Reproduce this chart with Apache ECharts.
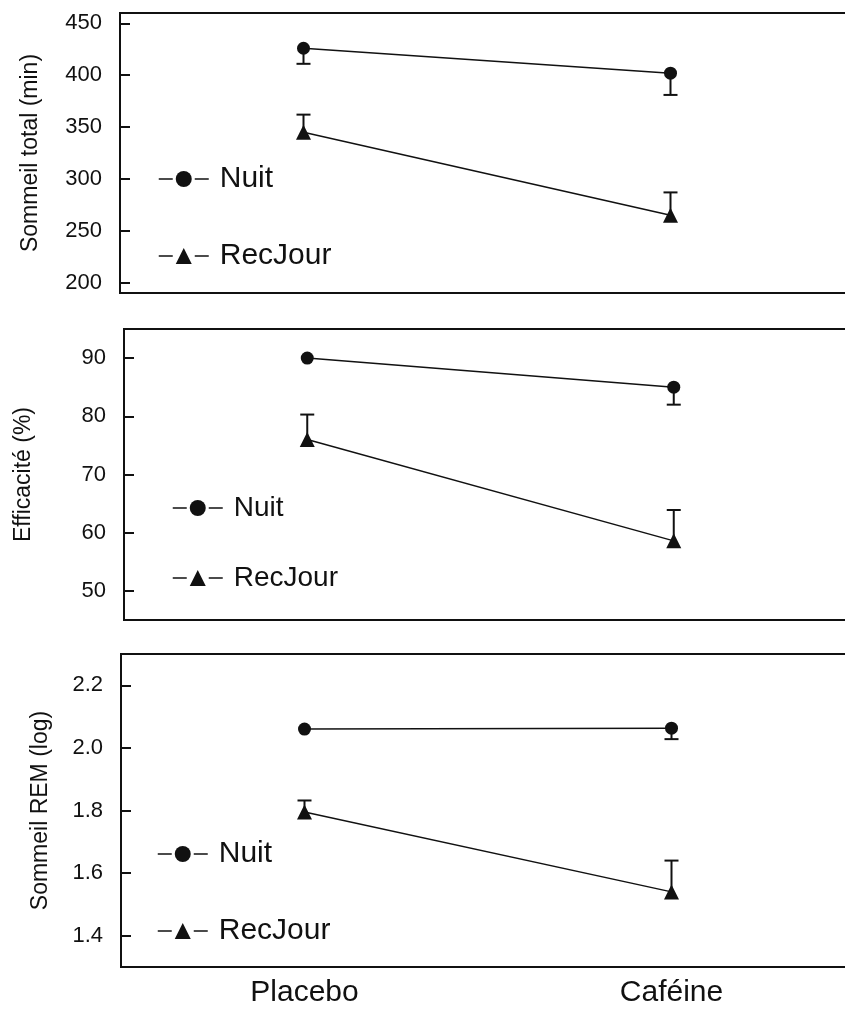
<!DOCTYPE html>
<html>
<head>
<meta charset="utf-8">
<script src="https://cdn.jsdelivr.net/npm/echarts@6/dist/echarts.min.js"></script>
<style>
  html, body { margin: 0; padding: 0; background: #fff; overflow: hidden; }
  #chart { width: 862px; height: 1009px; }
</style>
</head>
<body>
<div id="chart"></div>
<script>
// categories
var categories = ['Placebo', 'Caféine'];

// Sommeil total (min)
var totalNuit = [426, 402];
var totalNuitSem = [15, 21];
var totalRecJour = [345, 265];
var totalRecJourSem = [17, 22];
var totalTicks = [200, 250, 300, 350, 400, 450];

// Efficacité (%)
var effNuit = [90, 85];
var effNuitSem = [0, 3];
var effRecJour = [76, 58.6];
var effRecJourSem = [4.3, 5.3];
var effTicks = [50, 60, 70, 80, 90];

// Sommeil REM (log)
var remNuit = [2.06, 2.063];
var remNuitSem = [0, 0.035];
var remRecJour = [1.795, 1.54];
var remRecJourSem = [0.037, 0.1];
var remTicks = [1.4, 1.6, 1.8, 2.0, 2.2];

var ink = '#111';
var font = '"Liberation Sans", Arial, sans-serif';

function errData(vals, sem, dir) {
    var out = [];
    for (var i = 0; i < vals.length; i++) {
        if (sem[i] > 0) out.push([i, vals[i], vals[i] + dir * sem[i]]);
    }
    return out;
}

function renderErr(params, api) {
    var p0 = api.coord([api.value(0), api.value(1)]);
    var p1 = api.coord([api.value(0), api.value(2)]);
    var half = 7;
    return {
        type: 'group',
        children: [
            {type: 'line', shape: {x1: p0[0], y1: p0[1], x2: p1[0], y2: p1[1]}, style: {stroke: ink, lineWidth: 2}},
            {type: 'line', shape: {x1: p1[0] - half, y1: p1[1], x2: p1[0] + half, y2: p1[1]}, style: {stroke: ink, lineWidth: 2}}
        ]
    };
}

function panelSeries(idx, nuit, nuitSem, rec, recSem) {
    return [
        {
            name: 'Nuit', type: 'line', xAxisIndex: idx, yAxisIndex: idx, data: nuit, z: 5,
            symbol: 'circle', symbolSize: 13,
            itemStyle: {color: ink}, lineStyle: {color: ink, width: 1.5}
        },
        {
            name: 'RecJour', type: 'line', xAxisIndex: idx, yAxisIndex: idx, data: rec, z: 5,
            symbol: 'triangle', symbolSize: 15,
            itemStyle: {color: ink}, lineStyle: {color: ink, width: 1.5}
        },
        {
            type: 'custom', xAxisIndex: idx, yAxisIndex: idx, z: 3, renderItem: renderErr,
            encode: {x: 0, y: [1, 2]}, data: errData(nuit, nuitSem, -1)
        },
        {
            type: 'custom', xAxisIndex: idx, yAxisIndex: idx, z: 3, renderItem: renderErr,
            encode: {x: 0, y: [1, 2]}, data: errData(rec, recSem, 1)
        }
    ];
}

function xAxis(idx, showLabel) {
    return {
        type: 'category', gridIndex: idx, data: categories, boundaryGap: true,
        axisLine: {lineStyle: {color: ink, width: 2}},
        axisTick: {alignWithLabel: true, inside: true, length: 10, lineStyle: {color: ink, width: 2}},
        axisLabel: {show: showLabel, color: ink, fontSize: 30, fontFamily: font, margin: 11}
    };
}

function yAxis(idx, name, min, max, ticks, gap, fmt) {
    return {
        type: 'value', gridIndex: idx, min: min, max: max,
        name: name, nameLocation: 'middle', nameGap: gap,
        nameTextStyle: {color: ink, fontSize: 23, fontFamily: font},
        splitLine: {show: false},
        axisLine: {show: true, lineStyle: {color: ink, width: 2}},
        axisTick: {show: true, inside: true, length: 10, customValues: ticks, lineStyle: {color: ink, width: 2}},
        axisLabel: {color: ink, fontSize: 22, fontFamily: font, margin: 18, customValues: ticks, formatter: fmt}
    };
}

function legend(left, top, gap, size) {
    return {
        data: ['Nuit', 'RecJour'], orient: 'vertical', left: left, top: top,
        itemWidth: 50, itemHeight: 20, itemGap: gap, selectedMode: false,
        lineStyle: {color: ink, width: 1.5, type: [14, 22]},
        textStyle: {color: ink, fontSize: size, fontFamily: font, lineHeight: 28, padding: [0, 0, 0, 6]}
    };
}

var chart = echarts.init(document.getElementById('chart'), null, {renderer: 'canvas'});
var option = {
    animation: false,
    backgroundColor: '#fff',
    grid: [
        {left: 120, top: 13, width: 734, height: 280, show: true, borderColor: ink, borderWidth: 2},
        {left: 124, top: 329, width: 733, height: 291, show: true, borderColor: ink, borderWidth: 2},
        {left: 121, top: 654, width: 734, height: 313, show: true, borderColor: ink, borderWidth: 2}
    ],
    legend: [
        legend(153, 159, 47, 30),
        legend(167, 489, 42, 28),
        legend(152, 834, 47, 30)
    ],
    xAxis: [xAxis(0, false), xAxis(1, false), xAxis(2, true)],
    yAxis: [
        yAxis(0, 'Sommeil total (min)', 190, 460, totalTicks, 78, function (v) { return v; }),
        yAxis(1, 'Efficacité (%)', 45, 95, effTicks, 89, function (v) { return v; }),
        yAxis(2, 'Sommeil REM (log)', 1.3, 2.3, remTicks, 69, function (v) { return v.toFixed(1); })
    ],
    series: []
        .concat(panelSeries(0, totalNuit, totalNuitSem, totalRecJour, totalRecJourSem))
        .concat(panelSeries(1, effNuit, effNuitSem, effRecJour, effRecJourSem))
        .concat(panelSeries(2, remNuit, remNuitSem, remRecJour, remRecJourSem))
};
chart.setOption(option);
</script>
</body>
</html>
